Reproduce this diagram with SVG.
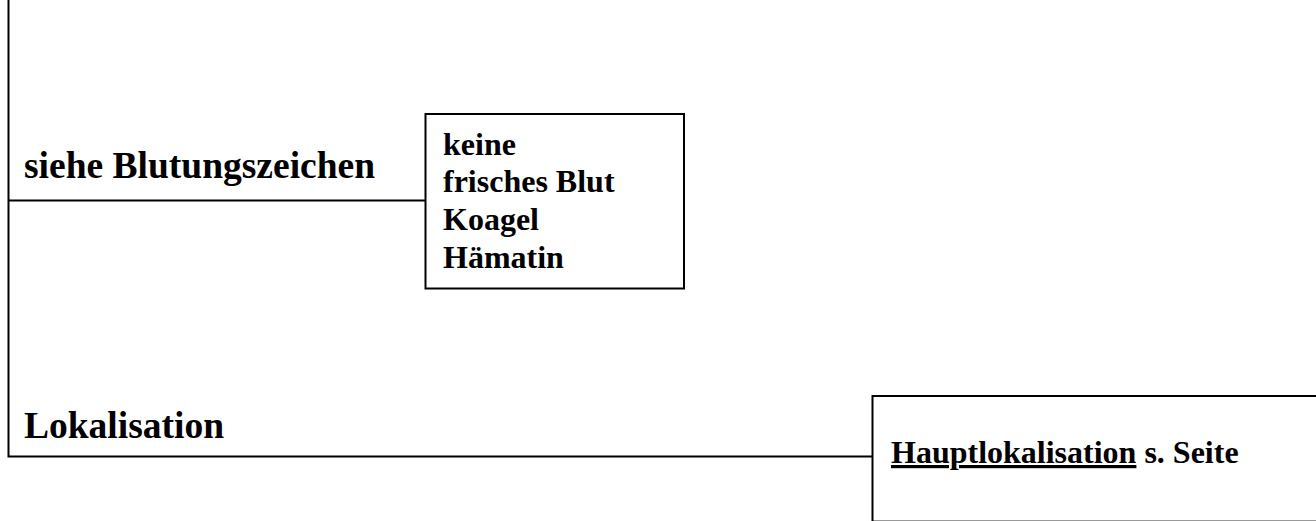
<svg xmlns="http://www.w3.org/2000/svg" width="1316" height="521" viewBox="0 0 1316 521">
<style>
.ln{stroke:#000;stroke-width:2;fill:none}
.bx{stroke:#000;stroke-width:2;fill:#fff}
.t{font-family:"Liberation Serif","Times New Roman",serif;font-weight:bold;fill:#000}
.big{font-size:37.5px}
.sm{font-size:32px}
</style>
<rect width="1316" height="521" fill="#fff"/>
<g id="connectors">
<polyline class="ln" points="8.5,0 8.5,456.5 872,456.5"/>
<line class="ln" x1="8.5" y1="200.5" x2="425" y2="200.5"/>
</g>
<g id="label-blutung">
<text class="t big" x="24" y="178">siehe Blutungszeichen</text>
</g>
<g id="label-lokalisation">
<text class="t big" x="24" y="438">Lokalisation</text>
</g>
<g id="box-blutung">
<rect class="bx" x="425.5" y="114" width="258.5" height="174.5"/>
<text class="t sm" x="443" y="155">keine</text>
<text class="t sm" x="443" y="192">frisches Blut</text>
<text class="t sm" x="443" y="230">Koagel</text>
<text class="t sm" x="443" y="268">Hämatin</text>
</g>
<g id="box-hauptlokalisation">
<rect class="bx" x="872.5" y="396" width="460" height="125.6"/>
<text class="t sm" x="891" y="463"><tspan text-decoration="underline">Hauptlokalisation</tspan> s. Seite</text>
</g>
</svg>
